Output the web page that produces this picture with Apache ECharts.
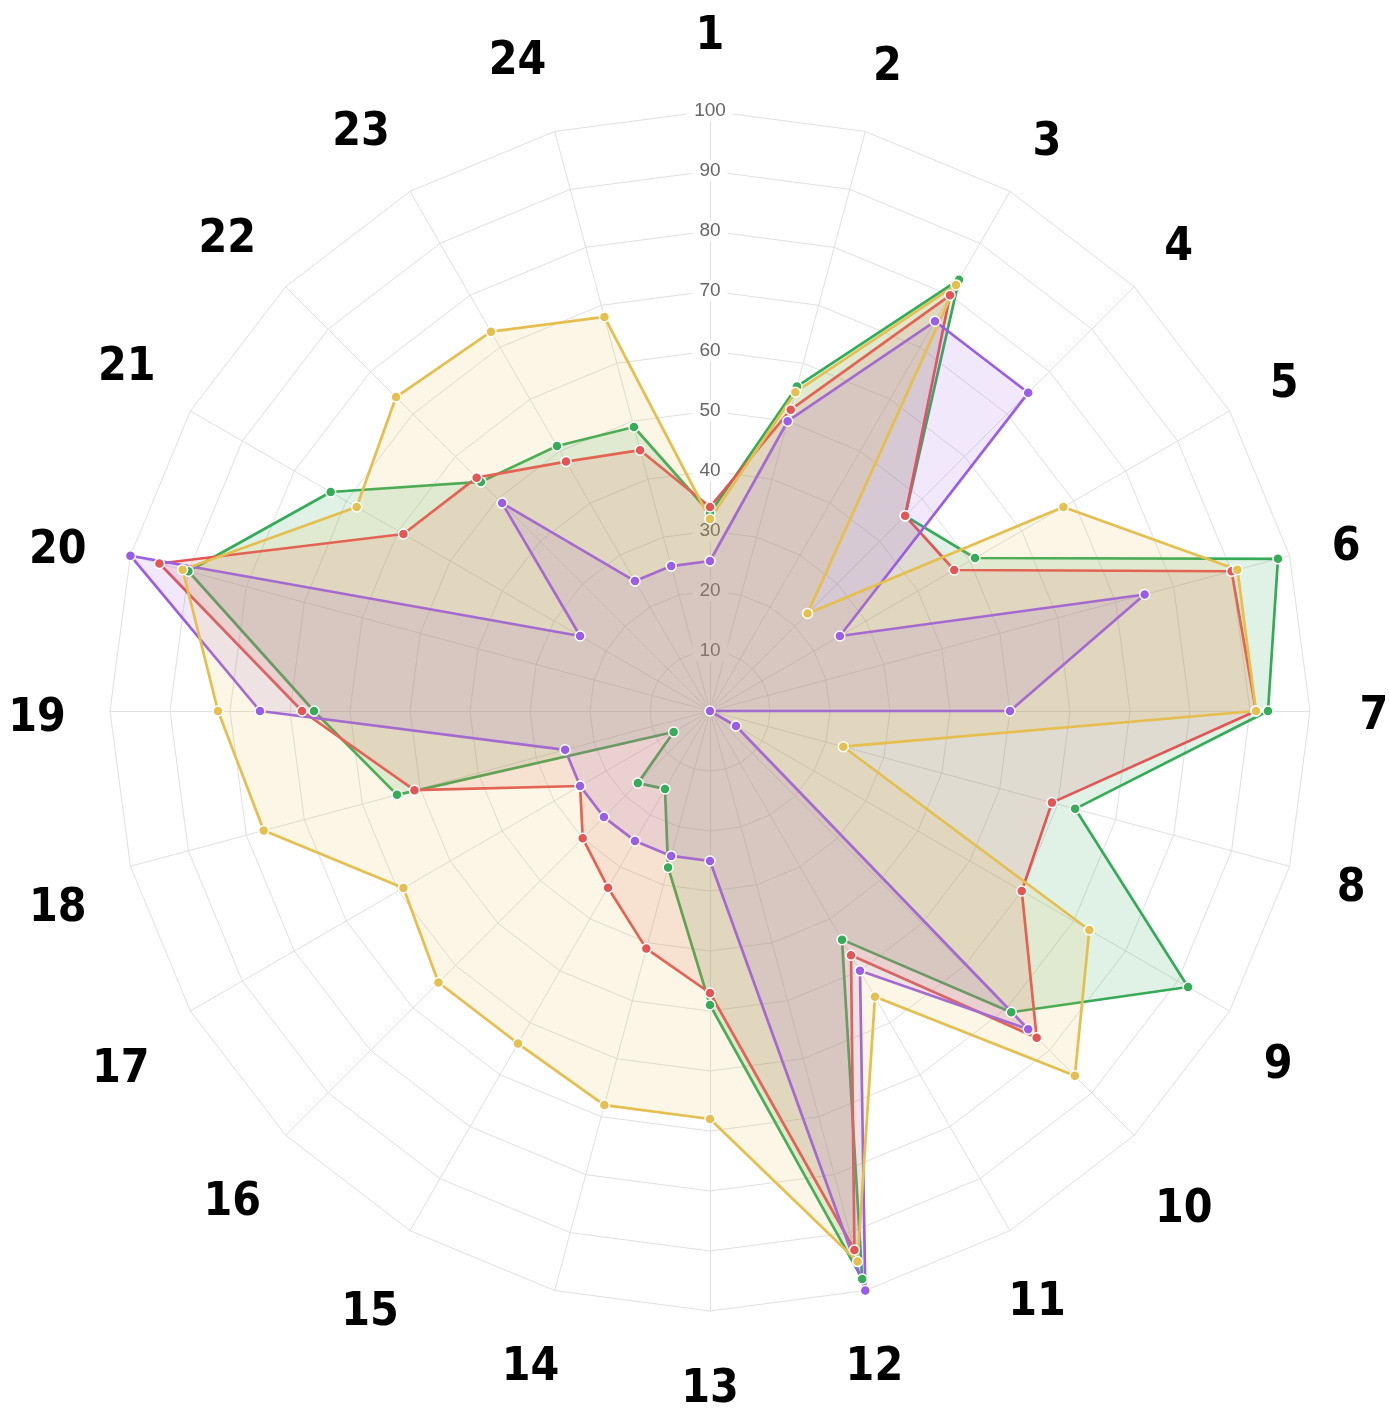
<!DOCTYPE html>
<html>
<head>
<meta charset="utf-8">
<script src="https://cdn.jsdelivr.net/npm/echarts@6/dist/echarts.min.js"></script>
<style>
html,body{margin:0;padding:0;background:#ffffff;}
#chart{width:1389px;height:1416px;}
</style>
</head>
<body>
<div id="chart"></div>
<script>
// Axis (spoke) names, clockwise from the top
const axisNames = ['1','2','3','4','5','6','7','8','9','10','11','12','13','14','15','16','17','18','19','20','21','22','23','24'];
// Radial scale
const scaleMin = 0;
const scaleMax = 100;
const scaleStep = 10;

// Series values, one per spoke (spoke 1 .. 24)
const greenValues  = [33, 56, 83, 46, 51, 98, 93, 63, 92, 71, 44, 98, 49, 27, 15, 17, 7, 54, 66, 90, 73, 54, 51, 49];
const redValues    = [34, 52, 80, 46, 47, 90, 91, 59, 60, 77, 47, 93, 47, 41, 34, 30, 25, 51, 68, 95, 59, 55, 48, 45];
const purpleValues = [25, 50, 75, 75, 25, 75, 50, 0, 5, 75, 50, 100, 25, 25, 25, 25, 25, 25, 75, 100, 25, 49, 25, 25];
const yellowValues = [32, 55, 82, 23, 68, 91, 91, 23, 73, 86, 55, 95, 68, 68, 64, 64, 59, 77, 82, 91, 68, 74, 73, 68];

// Small nudges [dx, dy] for each spoke name (layout only, spoke 1 .. 24)
const nameNudge = [
  [0,-4],[4,4],[2,12],[-5,11],[-6,9],[-11,10],[-6,6],[-6,5],[-12,20],[0,25],[-8,12],[-9,10],
  [0,9],[-6,10],[-5,22],[-4,18],[-9,24],[-5,25],[-3,8],[-5,13],[-3,-8],[-9,3],[-14,2],[-19,-2]
];

// ECharts lays radar indicators out counter-clockwise; feed them in reversed
// order (keeping spoke 1 first) so that they read clockwise.
const order = [0];
for (let i = axisNames.length - 1; i >= 1; i--) order.push(i);
const reorder = arr => order.map(i => arr[i]);

const nameFont = {
  color: '#000000',
  fontFamily: "'Liberation Sans Narrow', 'DejaVu Sans Condensed', sans-serif",
  fontWeight: 'bold',
  fontSize: 46
};

const rich = {};
axisNames.forEach((n, i) => {
  const dx = nameNudge[i][0], dy = nameNudge[i][1];
  rich['n' + i] = Object.assign({}, nameFont, {
    padding: [
      dy > 0 ? 2 * dy : 0,
      dx < 0 ? -2 * dx : 0,
      dy < 0 ? -2 * dy : 0,
      dx > 0 ? 2 * dx : 0
    ]
  });
});

const indicator = order.map((i, k) => {
  const o = { name: axisNames[i], min: scaleMin, max: scaleMax };
  if (k === 0) {
    o.axisLabel = {
      show: true,
      showMinLabel: false,
      color: '#666666',
      fontFamily: 'Liberation Sans, Arial, sans-serif',
      fontSize: 19,
      margin: 0,
      align: 'center',
      verticalAlign: 'middle',
      backgroundColor: '#ffffff',
      padding: [1, 7]
    };
  }
  return o;
});

const seriesStyles = [
  { name: 'green',  values: greenValues,  line: '#36ab58', fill: 'rgba(50,170,90,0.22)' },
  { name: 'red',    values: redValues,    line: '#e45555', fill: 'rgba(228,85,85,0.2)' },
  { name: 'purple', values: purpleValues, line: '#9a5ee6', fill: 'rgba(154,94,230,0.2)' },
  { name: 'yellow', values: yellowValues, line: '#e5bf4f', fill: 'rgba(229,191,79,0.2)' }
];

const chart = echarts.init(document.getElementById('chart'), null, { renderer: 'canvas' });
chart.setOption({
  animation: false,
  backgroundColor: '#ffffff',
  radar: {
    center: [710, 711],
    radius: 600,
    startAngle: 90,
    shape: 'polygon',
    splitNumber: (scaleMax - scaleMin) / scaleStep,
    nameGap: 70,
    axisName: Object.assign({}, nameFont, {
      align: 'center',
      verticalAlign: 'middle',
      formatter: function (name) {
        const i = axisNames.indexOf(name);
        return '{n' + i + '|' + name + '}';
      },
      rich: rich
    }),
    axisLine: { lineStyle: { color: '#e0e0e0', width: 1 } },
    splitLine: { lineStyle: { color: '#e0e0e0', width: 1 } },
    splitArea: { show: false },
    axisTick: { show: false },
    axisLabel: { show: false },
    indicator: indicator
  },
  series: [{
    type: 'radar',
    symbol: 'circle',
    symbolSize: 10,
    data: seriesStyles.map(s => ({
      name: s.name,
      value: reorder(s.values),
      lineStyle: { color: s.line, width: 2.7 },
      itemStyle: { color: s.line, borderColor: '#ffffff', borderWidth: 1.5 },
      areaStyle: { color: s.fill }
    }))
  }]
});
</script>
</body>
</html>
